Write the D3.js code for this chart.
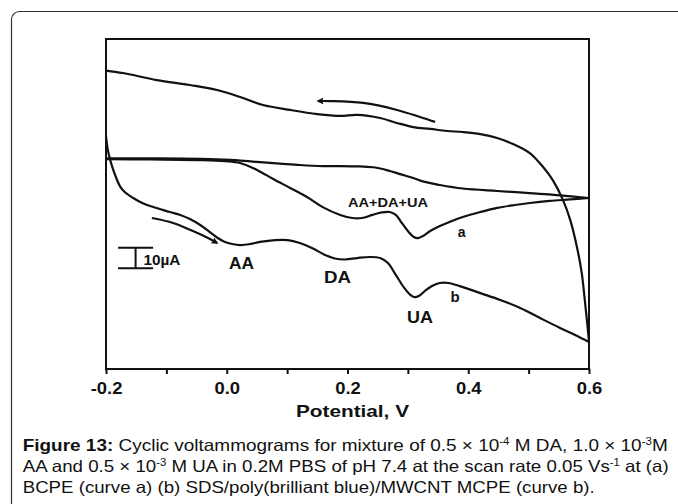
<!DOCTYPE html>
<html>
<head>
<meta charset="utf-8">
<script src="https://cdn.jsdelivr.net/npm/d3@7/dist/d3.min.js"></script>
<style>
  body { margin: 0; background: #fff; }
  svg text { font-family: "Liberation Sans", Arial, sans-serif; fill: #111; }
</style>
</head>
<body>
<div id="vis"></div>
<script>
// values: potential (V) and current (uA, arbitrary zero)
const bFwdV = [-0.200, -0.197, -0.193, -0.188, -0.183, -0.177, -0.169, -0.155, -0.140, -0.127, -0.111, -0.094, -0.077, -0.061, -0.044, -0.028, -0.015, -0.003, 0.009, 0.022, 0.039, 0.055, 0.080, 0.101, 0.121, 0.141, 0.163, 0.179, 0.196, 0.216, 0.237, 0.254, 0.267, 0.280, 0.294, 0.304, 0.310, 0.318, 0.328, 0.340, 0.353, 0.367, 0.386, 0.420, 0.453, 0.486, 0.519, 0.552, 0.577, 0.600];
const bFwdI = [3.0, -3.8, -8.7, -13.5, -17.4, -21.3, -24.2, -27.1, -29.5, -31.0, -32.4, -33.9, -35.3, -37.3, -40.2, -43.6, -46.5, -48.4, -49.4, -49.9, -49.4, -48.4, -47.5, -47.5, -48.9, -51.3, -54.7, -56.4, -56.9, -56.2, -55.7, -56.2, -58.6, -64.4, -70.7, -74.1, -75.1, -74.6, -72.2, -69.8, -68.3, -68.3, -69.8, -73.2, -76.5, -80.4, -85.3, -90.1, -93.5, -96.9];

const bRevV = [0.600, 0.597, 0.593, 0.588, 0.580, 0.569, 0.557, 0.540, 0.524, 0.502, 0.474, 0.448, 0.420, 0.391, 0.365, 0.337, 0.309, 0.282, 0.254, 0.216, 0.188, 0.150, 0.105, 0.060, 0.022, -0.016, -0.061, -0.116, -0.172, -0.200];
const bRevI = [-96.9, -87.7, -76.5, -63.5, -50.8, -37.8, -28.1, -18.4, -12.1, -5.3, -0.9, 2.0, 3.9, 4.9, 5.4, 6.4, 7.3, 9.3, 11.7, 13.2, 12.7, 13.6, 15.6, 18.0, 21.9, 25.3, 27.7, 30.1, 33.5, 34.7];

const aFwdV = [-0.200, -0.127, -0.044, -0.003, 0.022, 0.050, 0.077, 0.105, 0.133, 0.159, 0.188, 0.208, 0.224, 0.241, 0.257, 0.270, 0.280, 0.290, 0.300, 0.310, 0.317, 0.325, 0.337, 0.353, 0.373, 0.391, 0.420, 0.448, 0.477, 0.502, 0.535, 0.569, 0.600];
const aFwdI = [-8.2, -8.4, -8.7, -9.2, -10.1, -13.5, -17.9, -22.2, -26.6, -31.5, -35.3, -36.8, -36.8, -35.3, -34.1, -33.9, -35.3, -39.2, -43.1, -46.0, -46.5, -45.5, -43.1, -40.7, -38.2, -36.3, -33.9, -31.9, -30.5, -29.5, -28.5, -27.8, -27.1];

const aRevV = [0.600, 0.557, 0.502, 0.448, 0.391, 0.353, 0.328, 0.309, 0.287, 0.270, 0.246, 0.221, 0.188, 0.159, 0.121, 0.088, 0.050, 0.014, -0.028, -0.111, -0.200];
const aRevI = [-27.1, -25.9, -24.7, -23.7, -22.5, -20.8, -19.3, -17.4, -15.5, -14.0, -12.3, -11.8, -11.6, -11.6, -11.1, -10.4, -9.6, -8.7, -8.2, -7.9, -7.9];

// scan direction arrows
const fwdArrowV = [-0.124, -0.089, -0.056, -0.031, -0.016];
const fwdArrowI = [-36.8, -39.2, -43.1, -46.5, -48.9];
const revArrowV = [0.345, 0.320, 0.282, 0.226, 0.171, 0.151];
const revArrowI = [9.8, 12.2, 15.6, 19.0, 19.9, 19.9];

const tickValues = [-0.2, -0.1, 0.0, 0.1, 0.2, 0.3, 0.4, 0.5, 0.6];
const tickLabels = ["-0.2", "", "0.0", "", "0.2", "", "0.4", "", "0.6"];

// 10 uA scale bar
const barV = -0.151;
const barI = [-51.2, -61.2];

const labelText = ["AA+DA+UA", "a", "b", "AA", "DA", "UA", "10\u00b5A"];
const labelV = [0.267, 0.389, 0.378, 0.0244, 0.1834, 0.320, -0.138];
const labelI = [-29.5, -43.4, -75.1, -58.6, -65.4, -84.6, -57.2];

function vis() {
    const width = 678;
    const height = 504;
    const margin = { left: 106, top: 39, right: 89, bottom: 135 };

    const svg = d3.select("#vis")
        .append("svg")
        .attr("width", width)
        .attr("height", height)
        .attr("viewBox", `0 0 ${width} ${height}`);

    // outer rounded box of the figure
    svg.append("rect")
        .attr("x", 11.5).attr("y", 11.5)
        .attr("width", 720).attr("height", 540)
        .attr("rx", 8)
        .style("fill", "#fff")
        .style("stroke", "#333")
        .style("stroke-width", 1.2);

    const x = d3.scaleLinear()
        .domain([-0.2, 0.6])
        .range([margin.left, width - margin.right]);
    const y = d3.scaleLinear()
        .domain([-110, 50])
        .range([height - margin.bottom, margin.top]);

    const defs = svg.append("defs");
    defs.append("marker")
        .attr("id", "head")
        .attr("viewBox", "0 0 10 10")
        .attr("refX", 8).attr("refY", 5)
        .attr("markerUnits", "userSpaceOnUse")
        .attr("markerWidth", 11).attr("markerHeight", 7)
        .attr("orient", "auto")
        .append("path")
            .attr("d", "M0,0 L10,5 L0,10 L2,5 z")
            .style("fill", "#111");

    const line = d3.line()
        .x(d => x(d[0]))
        .y(d => y(d[1]))
        .curve(d3.curveCatmullRom.alpha(0.5));

    const curves = [
        d3.zip(bFwdV, bFwdI),
        d3.zip(bRevV, bRevI),
        d3.zip(aFwdV, aFwdI),
        d3.zip(aRevV, aRevI)
    ];

    svg.selectAll(".cv")
        .data(curves)
        .join("path")
            .attr("class", "cv")
            .attr("d", line)
            .style("fill", "none")
            .style("stroke", "#111")
            .style("stroke-width", 2.2)
            .style("stroke-linejoin", "round");

    svg.selectAll(".arrow")
        .data([d3.zip(fwdArrowV, fwdArrowI), d3.zip(revArrowV, revArrowI)])
        .join("path")
            .attr("class", "arrow")
            .attr("d", line)
            .attr("marker-end", "url(#head)")
            .style("fill", "none")
            .style("stroke", "#111")
            .style("stroke-width", 2.2);

    // frame
    svg.append("rect")
        .attr("x", x(-0.2)).attr("y", y(50))
        .attr("width", x(0.6) - x(-0.2))
        .attr("height", y(-110) - y(50))
        .style("fill", "none")
        .style("stroke", "#111")
        .style("stroke-width", 2);

    const xAxis = svg.append("g")
        .attr("transform", `translate(0, ${y(-110)})`)
        .call(d3.axisBottom(x)
            .tickValues(tickValues)
            .tickFormat((d, i) => tickLabels[i])
            .tickSize(5)
            .tickPadding(9));
    xAxis.select(".domain").remove();
    xAxis.selectAll(".tick line").style("stroke", "#111").style("stroke-width", 2);
    xAxis.selectAll(".tick text")
        .style("font-family", "Liberation Sans, Arial, sans-serif")
        .style("font-size", "16px")
        .style("font-weight", 700)
        .style("fill", "#111")
        .each(function() {
            const w = this.getComputedTextLength();
            if (w > 0) d3.select(this).attr("textLength", w * 1.15).attr("lengthAdjust", "spacingAndGlyphs");
        });

    svg.append("text")
        .attr("x", (x(-0.2) + x(0.6)) / 2 + 5)
        .attr("y", 416.5)
        .attr("text-anchor", "middle")
        .attr("textLength", 113)
        .attr("lengthAdjust", "spacingAndGlyphs")
        .style("font-size", "16.5px")
        .style("font-weight", 700)
        .text("Potential, V");

    // scale bar
    const barHalf = 17.5;
    svg.append("path")
        .attr("d", `M${x(barV) - barHalf},${y(barI[0])}H${x(barV) + barHalf}` +
                   `M${x(barV)},${y(barI[0])}V${y(barI[1])}` +
                   `M${x(barV) - barHalf},${y(barI[1])}H${x(barV) + barHalf}`)
        .style("fill", "none")
        .style("stroke", "#111")
        .style("stroke-width", 2);

    const labelSize = { "AA+DA+UA": 12, "a": 14, "b": 15, "AA": 17, "DA": 17, "UA": 17, "10\u00b5A": 14 };
    const labelWidth = { "AA+DA+UA": 80, "AA": 25, "DA": 27, "UA": 26, "10\u00b5A": 37 };

    svg.selectAll(".lbl")
        .data(labelText)
        .join("text")
            .attr("class", "lbl")
            .attr("x", (d, i) => x(labelV[i]))
            .attr("y", (d, i) => y(labelI[i]))
            .attr("dy", "0.35em")
            .attr("text-anchor", d => d === "10\u00b5A" ? "start" : "middle")
            .attr("textLength", d => labelWidth[d] || null)
            .attr("lengthAdjust", "spacingAndGlyphs")
            .style("font-size", d => labelSize[d] + "px")
            .style("font-weight", 700)
            .text(d => d);

    // caption
    const cap = svg.append("g").style("font-size", "16.5px");
    const capLines = [
        { y: 450.8, w: 645, parts: [["Figure 13:", "b"], [" Cyclic voltammograms for mixture of 0.5 \u00d7 10", ""], ["-4", "s"], [" M DA, 1.0 \u00d7 10", ""], ["-3", "s"], ["M", ""]] },
        { y: 471.8, w: 646, parts: [["AA and 0.5 \u00d7 10", ""], ["-3", "s"], [" M UA in 0.2M PBS of pH 7.4 at the scan rate 0.05 Vs", ""], ["-1", "s"], [" at (a)", ""]] },
        { y: 492.5, w: 572, parts: [["BCPE (curve a) (b) SDS/poly(brilliant blue)/MWCNT MCPE (curve b).", ""]] }
    ];

    capLines.forEach(l => {
        const t = cap.append("text")
            .attr("x", 22.7)
            .attr("y", l.y)
            .attr("textLength", l.w)
            .attr("lengthAdjust", "spacingAndGlyphs");
        let raised = false;
        l.parts.forEach(p => {
            const ts = t.append("tspan").text(p[0]);
            if (p[1] === "b") ts.style("font-weight", 700);
            if (p[1] === "s") {
                ts.attr("dy", -6).style("font-size", "10px");
                raised = true;
            } else if (raised) {
                ts.attr("dy", 6);
                raised = false;
            }
        });
    });
}

vis();
</script>
</body>
</html>
